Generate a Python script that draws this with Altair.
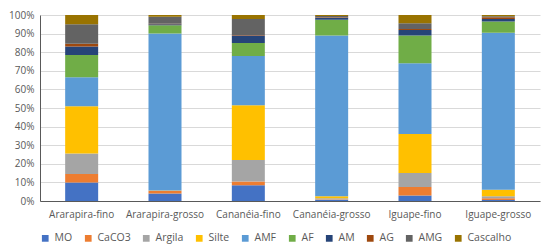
import altair as alt
import pandas as pd

sites = ["Ararapira-fino", "Ararapira-grosso", "Cananéia-fino", "Cananéia-grosso", "Iguape-fino", "Iguape-grosso"]
components = ["MO", "CaCO3", "Argila", "Silte", "AMF", "AF", "AM", "AG", "AMG", "Cascalho"]
colors = ["#4472C4", "#ED7D31", "#A5A5A5", "#FFC000", "#5B9BD5", "#70AD47", "#264478", "#9E480E", "#636363", "#997300"]

MO = [10.0, 4.0, 8.5, 0.5, 3.0, 0.5]
CaCO3 = [4.5, 1.5, 2.0, 0.3, 4.5, 1.0]
Argila = [11.0, 0.0, 11.5, 0.7, 7.5, 1.0]
Silte = [25.5, 0.2, 29.5, 1.0, 21.0, 3.5]
AMF = [15.5, 84.3, 26.5, 86.5, 38.0, 84.5]
AF = [12.0, 4.5, 7.0, 8.5, 15.0, 6.0]
AM = [4.5, 0.5, 4.0, 1.0, 3.0, 1.3]
AG = [1.5, 0.3, 0.3, 0.3, 0.5, 1.0]
AMG = [10.5, 3.7, 8.5, 0.7, 3.0, 0.5]
Cascalho = [5.0, 1.0, 2.2, 0.5, 4.5, 0.7]

series = [MO, CaCO3, Argila, Silte, AMF, AF, AM, AG, AMG, Cascalho]
rows = []
for ci, (comp, vals) in enumerate(zip(components, series)):
    for s, v in zip(sites, vals):
        rows.append({"site": s, "comp": comp, "value": v, "ord": ci})
df = pd.DataFrame(rows)

font = "Open Sans"
chart = alt.Chart(df).mark_bar(size=33).encode(
    x=alt.X("site:N", sort=sites, title=None,
            axis=alt.Axis(labelAngle=0, labelFont=font, labelFontSize=10, labelColor="#595959",
                          domainColor="#595959", ticks=False, labelPadding=8)),
    y=alt.Y("value:Q", stack="normalize", title=None,
            scale=alt.Scale(domain=[0, 1]),
            axis=alt.Axis(format="%", values=[i / 10 for i in range(11)], labelFont=font,
                          labelFontSize=10, labelColor="#595959", domainColor="#595959",
                          ticks=False, gridColor="#D9D9D9", labelPadding=6)),
    color=alt.Color("comp:N", sort=components,
                    scale=alt.Scale(domain=components, range=colors),
                    legend=alt.Legend(orient="bottom", direction="horizontal", title=None,
                                      symbolType="square", symbolSize=45, labelFont=font,
                                      labelFontSize=10.5, labelColor="#595959", columns=10,
                                      columnPadding=10, symbolStrokeWidth=0, offset=14)),
    order=alt.Order("ord:Q", sort="ascending"),
).properties(
    width=500, height=186,
    autosize=alt.AutoSizeParams(type="none"),
    padding={"left": 32, "top": 7, "right": 2, "bottom": 50},
).configure_view(stroke=None)

chart.save("out.html", embed_options={"renderer": "svg", "actions": False})
